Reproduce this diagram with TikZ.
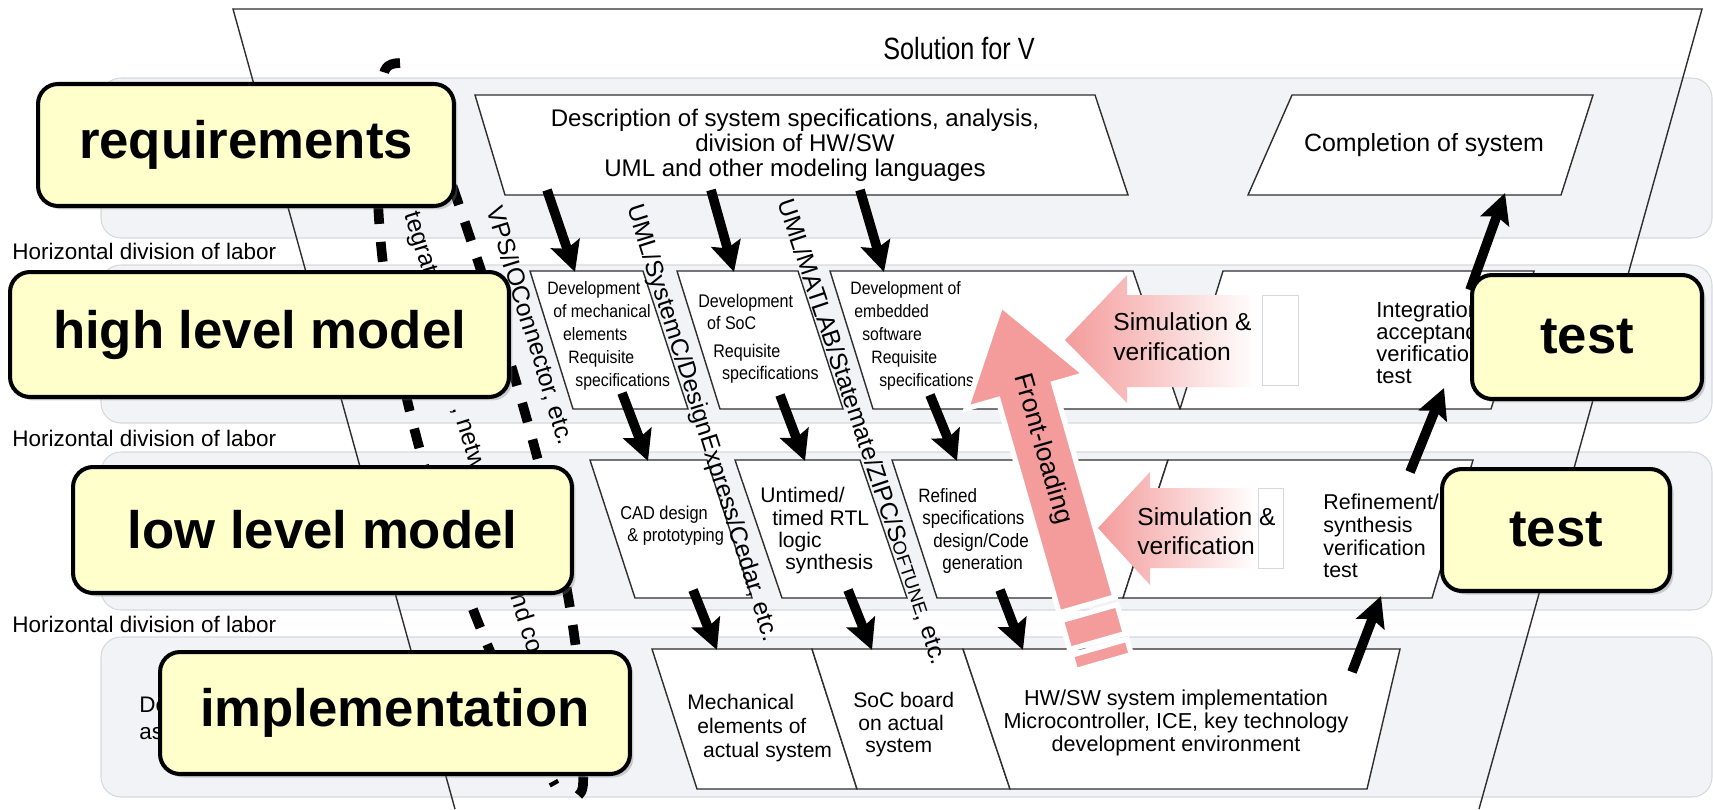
\documentclass[tikz,border=0pt]{standalone}
\usepackage{fontspec}
\setmainfont{Liberation Sans}
\newfontfamily\narrowsf[FakeStretch=0.82]{Liberation Sans}
\newfontfamily\slimsf[FakeStretch=0.88]{Liberation Sans}
\usetikzlibrary{arrows.meta,shadows}

\definecolor{bandfill}{HTML}{F1F3F6}
\definecolor{bandline}{HTML}{D5D9DE}
\definecolor{boxline}{HTML}{2E2E2E}
\definecolor{notefill}{HTML}{FFFFCC}
\definecolor{pinkarrow}{HTML}{F49B9B}

\newcommand{\fs}[2]{\fontsize{#1}{#2}\selectfont}

\begin{document}
\begin{tikzpicture}[x=0.02cm, y=-0.02cm,
  band/.style={fill=bandfill, draw=bandline, line width=0.6pt, rounded corners=0.4cm},
  stage/.style={fill=white, draw=boxline, line width=0.8pt},
  flow/.style={line width=5.5pt, -{Stealth[length=17pt, width=17pt, inset=3pt]}},
  tool/.style={rotate=-72.5, inner sep=0pt, font=\fs{14}{16}},
  steptext/.style={inner sep=0pt, align=left, anchor=west},
  note/.style={draw, line width=2.3pt, rounded corners=0.4cm, fill=notefill,
    font=\fs{30}{34}\bfseries,
    drop shadow={shadow xshift=0.07cm, shadow yshift=-0.07cm, opacity=0.35}},
  bracket/.style={line width=5.5pt, dash pattern=on 0.4cm off 0.36cm}]

\useasboundingbox (0,0) rectangle (1713,809);

% bands
\foreach \t/\b in {78/238, 265/423, 452/610, 637/797}
  \draw[band] (101,\t) rectangle (1712,\b);

% the V
\draw[boxline, line width=0.8pt] (455,809) -- (233,9) -- (1702,9) -- (1479,809);
\node[font=\narrowsf\fs{17.5}{19}] (title) at (959,49) {Solution for V};

\foreach \y/\n in {251/1, 438/2, 624/3}
  \node[steptext, font=\fs{12.8}{14}] (hdiv\n) at (12,\y) {Horizontal division of labor};
\node[steptext, font=\fs{12.8}{15.4}] (dev) at (139,718) {De\\as};

% level 1
\draw[stage] (475,95) -- (1095,95) -- (1128,195) -- (505,195) -- cycle;
\draw[stage] (1292,95) -- (1593,95) -- (1561,195) -- (1248,195) -- cycle;
\node[font=\fs{13.7}{14.2}, align=center, inner sep=0pt] (spec) at (795,145)
  {Description of system specifications, analysis,\\division of HW/SW\\UML and other modeling languages};
\node[font=\fs{14.2}{16}] (done) at (1424,145) {Completion of system};

% level 2
\draw[stage] (530,271) -- (643,271) -- (688,409) -- (573,409) -- cycle;
\draw[stage] (677,271) -- (798,271) -- (843,409) -- (720,409) -- cycle;
\draw[stage] (830,271) -- (1133,271) -- (1180,409) -- (873,409) -- cycle;
\draw[stage] (1223,271) -- (1534,271) -- (1491,409) -- (1180,409) -- cycle;
\node[steptext, font=\slimsf\fs{10.2}{13}] (mech) at (547,336)
  {Development\\\hspace*{3.4pt}of mechanical\\\hspace*{9pt}elements\\\hspace*{12pt}Requisite\\\hspace*{16pt}specifications};
\node[steptext, font=\slimsf\fs{10.4}{12}] (soc) at (698,312) {Development\\\hspace*{5pt}of SoC};
\node[steptext, font=\slimsf\fs{10.4}{12.5}] (socreq) at (713,364) {Requisite\\\hspace*{5pt}specifications};
\node[steptext, font=\slimsf\fs{10.2}{13}] (emb) at (850,336)
  {Development of\\\hspace*{2.3pt}embedded\\\hspace*{6.8pt}software\\\hspace*{12pt}Requisite\\\hspace*{16.5pt}specifications};
\node[steptext, font=\fs{12.5}{12.5}] (integ) at (1376,343) {Integration\\acceptance\\verification\\test};

% level 3
\draw[stage] (590,460) -- (707,460) -- (752,598) -- (635,598) -- cycle;
\draw[stage] (735,460) -- (860,460) -- (907,598) -- (782,598) -- cycle;
\draw[stage] (892,460) -- (1168,460) -- (1123,598) -- (937,598) -- cycle;
\draw[stage] (1168,460) -- (1473,460) -- (1432,598) -- (1123,598) -- cycle;
\node[steptext, font=\slimsf\fs{10.6}{12.5}] (cad) at (620,526) {CAD design\\\hspace*{4pt}\& prototyping};
\node[steptext, font=\fs{12}{12.7}] (rtl) at (760,531)
  {Untimed/\\\hspace*{6.8pt}timed RTL\\\hspace*{10.2pt}logic\\\hspace*{14.2pt}synthesis};
\node[steptext, font=\slimsf\fs{11}{12.7}] (refined) at (918,531)
  {Refined\\\hspace*{2.3pt}specifications\\\hspace*{8.5pt}design/Code\\\hspace*{13.7pt}generation};
\node[steptext, font=\fs{12.2}{12.9}] (refine) at (1323,536) {Refinement/\\synthesis\\verification\\test};

% level 4
\draw[stage] (652,649) -- (812,649) -- (857,789) -- (697,789) -- cycle;
\draw[stage] (812,649) -- (963,649) -- (1010,789) -- (857,789) -- cycle;
\draw[stage] (963,649) -- (1400,649) -- (1367,789) -- (1010,789) -- cycle;
\node[steptext, font=\fs{12}{13.4}] (mechsys) at (687,728)
  {Mechanical\\\hspace*{5.7pt}elements of\\\hspace*{9pt}actual system};
\node[steptext, font=\fs{12}{12.8}] (socsys) at (853,725) {SoC board\\\hspace*{2.8pt}on actual\\\hspace*{6.8pt}system};
\node[font=\fs{12.3}{13.2}, align=center, inner sep=0pt] (hwsw) at (1176,723)
  {HW/SW system implementation\\Microcontroller, ICE, key technology\\development environment};

% tools along the slant
\node[tool, rotate=-0.3] (vps) at (530,326) {VPS/IOConnector, etc.};
\node[tool] (umlsysc) at (702,423) {UML/SystemC/DesignExpress/Cedar, etc.};
\node[tool, rotate=1] (umlmat) at (862,432) {UML/MATLAB/Statemate/ZIPC/S{\fs{10.5}{12}OFTUNE}, etc.};
\node[tool] (frag1) at (419,243) {tegrat};
\node[tool] (frag2) at (468,438) {, netw};
\node[tool] (frag3) at (528,623) {nd co};

% arrows between stages
\coordinate (a1) at (547,190);  \coordinate (b1) at (575,272);
\coordinate (a2) at (711,190);  \coordinate (b2) at (734,272);
\coordinate (a3) at (860,190);  \coordinate (b3) at (884,272);
\coordinate (a4) at (622,393);  \coordinate (b4) at (648,461);
\coordinate (a5) at (780,395);  \coordinate (b5) at (805,461);
\coordinate (a6) at (930,395);  \coordinate (b6) at (957,461);
\coordinate (a7) at (693,590);  \coordinate (b7) at (717,650);
\coordinate (a8) at (848,590);  \coordinate (b8) at (872,650);
\coordinate (a9) at (1000,590); \coordinate (b9) at (1023,650);
\coordinate (u1) at (1352,672); \coordinate (v1) at (1381,596);
\coordinate (u2) at (1410,472); \coordinate (v2) at (1444,388);
\coordinate (u3) at (1470,290); \coordinate (v3) at (1505,193);
\foreach \i in {1,...,9}
  \draw[flow] (a\i) -- (b\i);
\foreach \i in {1,2,3}
  \draw[flow] (u\i) -- (v\i);

% dashed brackets
\draw[bracket] (400,63) .. controls (386,63) and (383,70) .. (383,82)
  .. controls (352,300) and (452,600) .. (555,785);
\draw[bracket] (440,150) .. controls (520,380) and (590,600) .. (583,785)
  .. controls (582,792) .. (574,800);

% simulation arrows
\path[left color=pinkarrow, middle color=pinkarrow, right color=white]
  (1065,340) -- (1127,275) -- (1127,295) -- (1256,295) -- (1256,387) -- (1127,387) -- (1127,403) -- cycle;
\path[left color=pinkarrow, middle color=pinkarrow, right color=white]
  (1098,528) -- (1150,472) -- (1150,488) -- (1256,488) -- (1256,568) -- (1150,568) -- (1150,585) -- cycle;
\draw[bandline, fill=white] (1262,295) rectangle (1298,385);
\draw[bandline, fill=white] (1258,488) rectangle (1283,568);
\node[steptext, font=\fs{14}{17}] (sim2) at (1113,337) {Simulation \&\\verification};
\node[steptext, font=\fs{14}{16.5}] (sim3) at (1137,531) {Simulation \&\\verification};

% front-loading
\begin{scope}[shift={(1001,305)}, rotate=16]
  \filldraw[fill=pinkarrow, draw=white, line width=3pt]
    (0,0) -- (62,90) -- (29,90) -- (29,312) -- (-29,312) -- (-29,90) -- (-62,90) -- cycle;
  \filldraw[fill=pinkarrow, draw=white, line width=3pt] (-29,320) rectangle (29,350);
  \filldraw[fill=pinkarrow, draw=white, line width=3pt] (-29,356) rectangle (29,372);
  \node[rotate=-74, font=\fs{15}{17}] (front) at (0,150) {Front-loading};
\end{scope}

% notes
\node[note, minimum width=8.32cm, minimum height=2.44cm] (req) at (246,145) {requirements};
\node[note, minimum width=9.98cm, minimum height=2.5cm] (hlm) at (259.5,334.5) {high level model};
\node[note, minimum width=9.98cm, minimum height=2.52cm] (llm) at (322.5,530) {low level model};
\node[note, minimum width=9.4cm, minimum height=2.44cm] (impl) at (395,713) {implementation};
\node[note, minimum width=4.6cm, minimum height=2.48cm] (test1) at (1587,337) {test};
\node[note, minimum width=4.56cm, minimum height=2.44cm] (test2) at (1556,530) {test};

\end{tikzpicture}
\end{document}
